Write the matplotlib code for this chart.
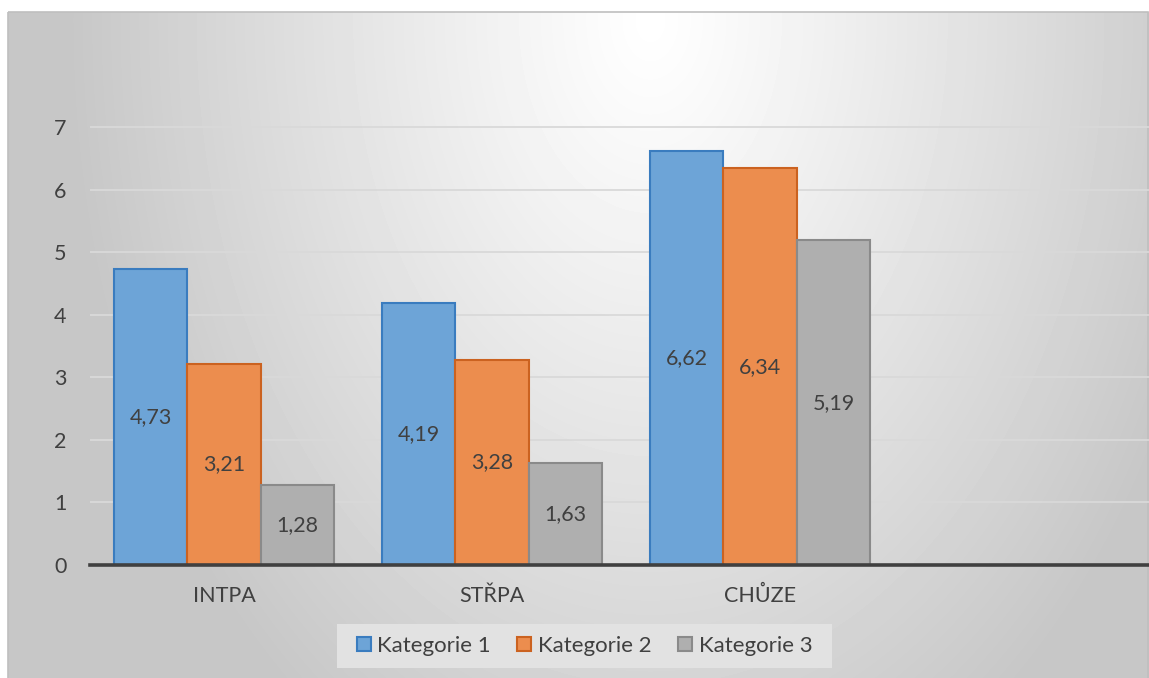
import matplotlib.pyplot as plt
import numpy as np
from matplotlib.patches import Rectangle

# data
kategorie = ["INTPA", "STŘPA", "CHŮZE", ""]
serie = ["Kategorie 1", "Kategorie 2", "Kategorie 3"]
hodnoty_1 = [4.73, 4.19, 6.62]
hodnoty_2 = [3.21, 3.28, 6.34]
hodnoty_3 = [1.28, 1.63, 5.19]

barvy = ["#6da4d7", "#ec8d4e", "#afafaf"]
okraje = ["#3a7cbf", "#cb6220", "#8a8a8a"]
text_barva = "#404040"

plt.rcParams['font.family'] = ['Lato', 'DejaVu Sans']

W, H = 1149, 678
fig = plt.figure(figsize=(W / 100, H / 100), dpi=100)

# pozadi grafu - radialni prechod
bg = fig.add_axes([0, 0, 1, 1], zorder=0)
bg.set_xlim(0, W)
bg.set_ylim(H, 0)
bg.axis('off')
xx, yy = np.meshgrid(np.arange(8, W), np.arange(12, H))
d = np.sqrt(((xx - 650) / 580.0) ** 2 + ((yy - 20) / 850.0) ** 2)
g = 1.0 - 0.22 * np.clip(d, 0, 1) ** 1.1
bg.imshow(g, cmap='gray', vmin=0, vmax=1, extent=(8, W, H, 12),
          aspect='auto', interpolation='bilinear')
bg.add_patch(Rectangle((8, 12), 1140, 700, fill=False, edgecolor='#bfbfbf', lw=1.2))
# podklad legendy
bg.add_patch(Rectangle((337, 624), 495, 44, facecolor='#e2e2e2', edgecolor='none'))

# hlavni osa
px_unit = 438 / 7.0
ymax = 7.03
ax = fig.add_axes([90 / W, (H - 565) / H, 1072 / W, ymax * px_unit / H], zorder=1)
ax.patch.set_alpha(0)

x = np.arange(len(kategorie))
sirka = 0.274
for i, (vals, nazev) in enumerate(zip([hodnoty_1, hodnoty_2, hodnoty_3], serie)):
    pos = x[:len(vals)] + (i - 1) * sirka
    bars = ax.bar(pos, vals, sirka, color=barvy[i], edgecolor=okraje[i],
                  linewidth=1.5, label=nazev, zorder=3)
    ax.bar_label(bars, labels=[f"{v:.2f}".replace('.', ',') for v in vals],
                 label_type='center', fontsize=15.5, color=text_barva)

ax.set_xlim(-0.5, 3.5)
ax.set_ylim(0, ymax)
ax.set_yticks(range(0, 8))
ax.set_xticks(x)
ax.set_xticklabels(kategorie)
ax.yaxis.grid(True, color='#d9d9d9', lw=1.3, zorder=0)
ax.set_axisbelow(True)
for s in ['top', 'right', 'left']:
    ax.spines[s].set_visible(False)
ax.spines['bottom'].set_color('#404040')
ax.spines['bottom'].set_linewidth(2.6)
ax.spines['bottom'].set_zorder(4)
ax.tick_params(axis='both', length=0, labelsize=15.5, colors=text_barva)
ax.tick_params(axis='y', pad=17)
ax.tick_params(axis='x', pad=15)

ax.legend(loc='center', bbox_to_anchor=(584.5 / W, 1 - 646 / H),
          bbox_transform=fig.transFigure, ncol=3, fontsize=16,
          frameon=False, handlelength=0.62, handleheight=0.62,
          handletextpad=0.3, columnspacing=1.2, labelcolor=text_barva)

fig.savefig('out.png', dpi=100)
